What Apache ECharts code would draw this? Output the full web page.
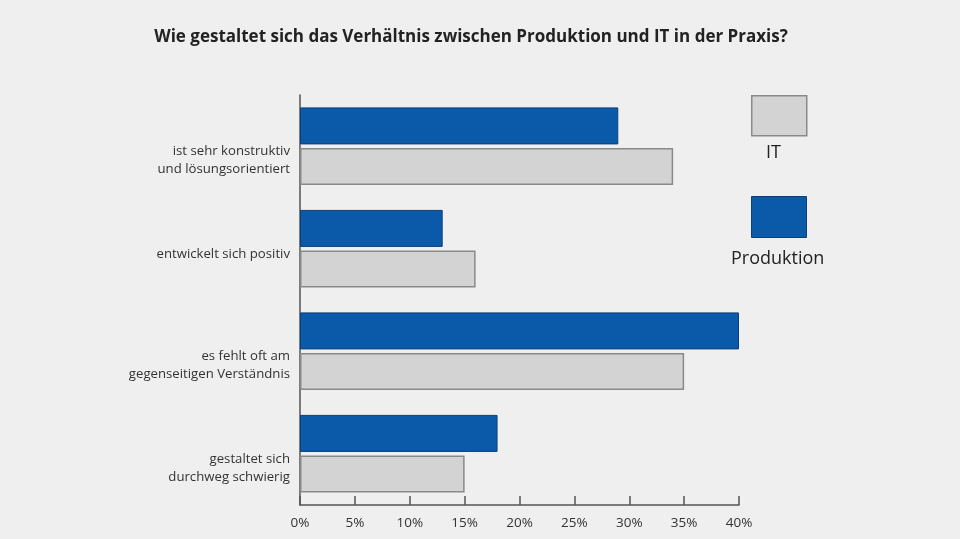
<!DOCTYPE html>
<html>
<head>
<meta charset="utf-8">
<script src="https://cdn.jsdelivr.net/npm/echarts@6/dist/echarts.min.js"></script>
<style>
  html, body { margin: 0; padding: 0; background: #efefef; }
  #main { width: 960px; height: 539px; }
</style>
</head>
<body>
<div id="main"></div>
<script>
// Daten
var categories = [
  'ist sehr konstruktiv\nund lösungsorientiert',
  'entwickelt sich positiv',
  'es fehlt oft am\ngegenseitigen Verständnis',
  'gestaltet sich\ndurchweg schwierig'
];
var produktion = [29, 13, 40, 18];
var it = [34, 16, 35, 15];
var tickLabels = ['0%', '5%', '10%', '15%', '20%', '25%', '30%', '35%', '40%'];

var blue = '#0b5aa9';
var grey = '#d3d3d3';

var chart = echarts.init(document.getElementById('main'));

var option = {
  backgroundColor: '#efefef',
  animation: false,
  title: {
    text: 'Wie gestaltet sich das Verhältnis zwischen Produktion und IT in der Praxis?',
    left: 466,
    textAlign: 'center',
    top: 24,
    textStyle: { fontFamily: 'Open Sans', fontSize: 17, fontWeight: 'bold', color: '#222' }
  },
  grid: { left: 300, right: 221, top: 95, bottom: 34 },
  xAxis: {
    type: 'value',
    min: 0, max: 40, interval: 5,
    axisLine: { show: true, lineStyle: { color: '#555', width: 1.5 } },
    axisTick: { show: true, inside: true, length: 9, lineStyle: { color: '#555', width: 1.5 } },
    splitLine: { show: false },
    axisLabel: {
      formatter: function (v) { return tickLabels[v / 5]; },
      fontFamily: 'Open Sans', fontSize: 13.5, color: '#333', margin: 11
    }
  },
  yAxis: {
    type: 'category',
    data: categories,
    inverse: true,
    axisLine: { show: true, lineStyle: { color: '#555', width: 1.5 } },
    axisTick: { show: false },
    axisLabel: {
      fontFamily: 'Open Sans', fontSize: 13.2, color: '#333', lineHeight: 18,
      margin: 10, align: 'right', verticalAlign: 'top', padding: [-4, 0, 0, 0]
    }
  },
  series: [
    {
      name: 'Produktion', type: 'bar', data: produktion,
      barWidth: 37, barGap: '10%',
      itemStyle: { color: blue, borderColor: '#0a3f78', borderWidth: 1 }
    },
    {
      name: 'IT', type: 'bar', data: it,
      barWidth: 37, barGap: '10%',
      itemStyle: { color: grey, borderColor: '#8a8a8a', borderWidth: 1.5 }
    }
  ],
  graphic: [
    { type: 'rect', left: 751, top: 95, shape: { width: 55, height: 40 },
      style: { fill: grey, stroke: '#8a8a8a', lineWidth: 1.5 } },
    { type: 'text', left: 766, top: 144,
      style: { text: 'IT', fontFamily: 'Open Sans', fontSize: 18, fill: '#222' } },
    { type: 'rect', left: 751, top: 196, shape: { width: 55, height: 41 },
      style: { fill: blue, stroke: '#0a3f78', lineWidth: 1 } },
    { type: 'text', left: 731, top: 250,
      style: { text: 'Produktion', fontFamily: 'Open Sans', fontSize: 18, fill: '#222' } }
  ]
};

chart.setOption(option);
</script>
</body>
</html>
